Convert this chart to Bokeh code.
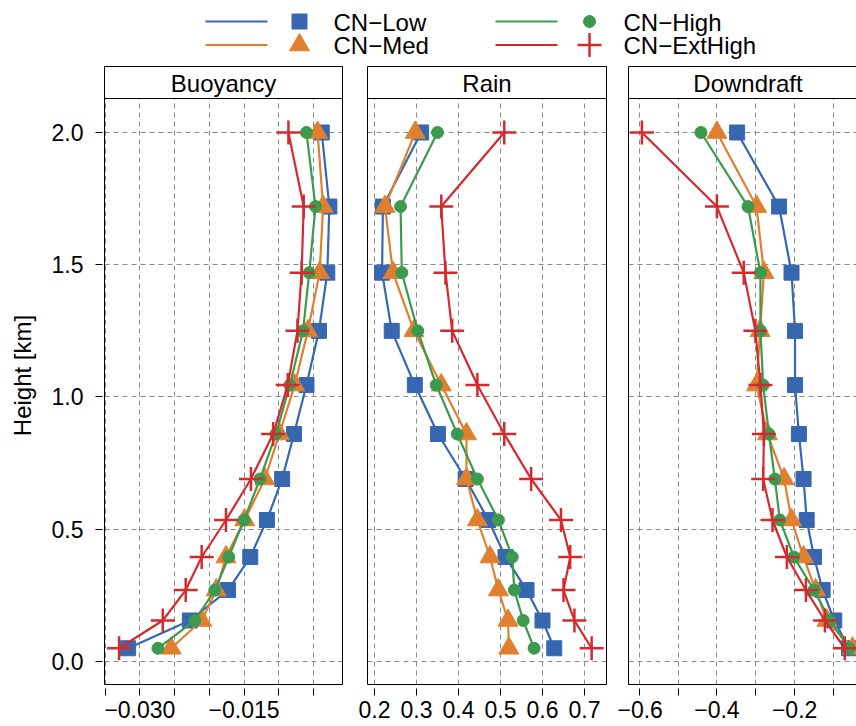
from bokeh.plotting import figure
from bokeh.layouts import column, row
from bokeh.models import Range1d, FixedTicker, LinearAxis
from bokeh.core.properties import value
from bokeh.embed import file_html
from bokeh.resources import INLINE

FONT = "Liberation Sans"

# ---------------- data ----------------
height_km = [0.05, 0.155, 0.27, 0.395, 0.535, 0.69, 0.86, 1.045, 1.25, 1.47, 1.72, 2.0]

series_names = ["CN\u2212Low", "CN\u2212Med", "CN\u2212High", "CN\u2212ExtHigh"]
panel_titles = ["Buoyancy", "Rain", "Downdraft"]

buoyancy_low = [-0.0317, -0.0228, -0.0173, -0.0141, -0.0117, -0.0095, -0.0078, -0.0060, -0.0042, -0.0030, -0.0027, -0.0038]
buoyancy_med = [-0.0255, -0.0211, -0.0190, -0.0176, -0.0149, -0.0120, -0.0099, -0.0077, -0.0058, -0.0041, -0.0036, -0.0044]
buoyancy_high = [-0.0274, -0.0221, -0.0192, -0.0172, -0.0150, -0.0127, -0.0104, -0.0084, -0.0065, -0.0056, -0.0047, -0.0060]
buoyancy_exthigh = [-0.0330, -0.0267, -0.0234, -0.0211, -0.0176, -0.0140, -0.0108, -0.0087, -0.0073, -0.0067, -0.0064, -0.0086]

rain_low = [0.628, 0.600, 0.562, 0.512, 0.471, 0.417, 0.351, 0.296, 0.241, 0.218, 0.220, 0.311]
rain_med = [0.520, 0.518, 0.495, 0.475, 0.445, 0.419, 0.419, 0.359, 0.294, 0.244, 0.225, 0.297]
rain_high = [0.580, 0.554, 0.533, 0.528, 0.495, 0.445, 0.397, 0.347, 0.303, 0.265, 0.262, 0.350]
rain_exthigh = [0.717, 0.676, 0.650, 0.666, 0.644, 0.573, 0.509, 0.445, 0.385, 0.369, 0.359, 0.509]

downdraft_low = [-0.060, -0.098, -0.128, -0.150, -0.169, -0.177, -0.189, -0.199, -0.199, -0.208, -0.240, -0.348]
downdraft_med = [-0.051, -0.117, -0.146, -0.177, -0.208, -0.227, -0.270, -0.298, -0.289, -0.279, -0.298, -0.400]
downdraft_high = [-0.060, -0.109, -0.150, -0.202, -0.238, -0.251, -0.266, -0.281, -0.288, -0.288, -0.320, -0.441]
downdraft_exthigh = [-0.071, -0.122, -0.171, -0.220, -0.257, -0.281, -0.279, -0.288, -0.301, -0.331, -0.400, -0.593]

height_ticks = [0.0, 0.5, 1.0, 1.5, 2.0]
height_tick_labels = ["0.0", "0.5", "1.0", "1.5", "2.0"]

buoyancy_ticks = [-0.035, -0.030, -0.025, -0.020, -0.015, -0.010, -0.005]
buoyancy_tick_labels = ["", "\u22120.030", "", "", "\u22120.015", "", ""]
rain_ticks = [0.2, 0.3, 0.4, 0.5, 0.6, 0.7]
rain_tick_labels = ["0.2", "0.3", "0.4", "0.5", "0.6", "0.7"]
downdraft_ticks = [-0.6, -0.5, -0.4, -0.3, -0.2, -0.1]
downdraft_tick_labels = ["\u22120.6", "", "\u22120.4", "", "\u22120.2", ""]

# ---------------- styles ----------------
colors = ["#3767B1", "#E0802F", "#3C9A4F", "#D42A2E"]
markers = ["square", "triangle", "circle", "cross"]
msizes = [15, 20, 12, 24]
mlw = [1, 1, 1, 2.5]

Y_START, Y_END = -0.087, 2.2495
STRIP_BOTTOM = 2.1285
STRIP_TEXT_Y = 2.187
FIG_H = 664


def bare_axis():
    return LinearAxis(ticker=FixedTicker(ticks=[]), major_tick_line_color=None,
                      minor_tick_line_color=None, major_label_text_font_size="0px",
                      major_tick_in=0, major_tick_out=0, major_label_standoff=0,
                      axis_line_color="black", axis_line_width=1)


def make_panel(title, values, x_start, x_end, full_end, ticks, labels,
               width, b_left, b_right, show_y, right_edge):
    p = figure(width=width, height=FIG_H, x_range=Range1d(x_start, x_end),
               y_range=Range1d(Y_START, Y_END), toolbar_location=None,
               output_backend="svg", title=None,
               min_border_left=b_left, min_border_right=b_right,
               min_border_top=4, min_border_bottom=42)
    p.outline_line_color = None
    p.background_fill_color = "white"
    p.border_fill_color = "white"

    p.xgrid.ticker = FixedTicker(ticks=ticks)
    p.ygrid.ticker = FixedTicker(ticks=height_ticks)
    for g in (p.xgrid[0], p.ygrid[0]):
        g.grid_line_color = "#8a8a8a"
        g.grid_line_dash = "5 4"
        g.grid_line_width = 1

    xa = p.xaxis[0]
    xa.ticker = FixedTicker(ticks=ticks)
    xa.major_label_overrides = dict(zip(ticks, labels))
    xa.major_tick_in = -4
    xa.major_tick_out = 11
    xa.major_label_standoff = 5
    xa.minor_tick_line_color = None
    xa.major_tick_line_color = "black"
    xa.axis_line_color = "black"
    xa.major_label_text_font = FONT
    xa.major_label_text_font_size = "23px"
    xa.major_label_text_color = "black"

    ya = p.yaxis[0]
    if show_y:
        ya.ticker = FixedTicker(ticks=height_ticks)
        ya.major_label_overrides = dict(zip(height_ticks, height_tick_labels))
        ya.major_tick_in = -2
        ya.major_tick_out = 9
        ya.major_label_standoff = 12
        ya.minor_tick_line_color = None
        ya.major_tick_line_color = "black"
        ya.axis_line_color = "black"
        ya.major_label_text_font = FONT
        ya.major_label_text_font_size = "23px"
        ya.major_label_text_color = "black"
        ya.axis_label = "Height [km]"
        ya.axis_label_text_font = FONT
        ya.axis_label_text_font_size = "24px"
        ya.axis_label_text_font_style = "normal"
        ya.axis_label_text_color = "black"
        ya.axis_label_standoff = 13
    else:
        ya.ticker = FixedTicker(ticks=[])
        ya.major_tick_line_color = None
        ya.minor_tick_line_color = None
        ya.major_label_text_font_size = "0px"
        ya.major_tick_in = 0
        ya.major_tick_out = 0
        ya.major_label_standoff = 0
        ya.axis_line_color = "black"

    p.add_layout(bare_axis(), "above")
    if right_edge:
        p.add_layout(bare_axis(), "right")

    for vals, c, m, s, lw in zip(values, colors, markers, msizes, mlw):
        p.line(vals, height_km, line_color=c, line_width=2.2)
        p.scatter(vals, height_km, marker=m, size=s, fill_color=c,
                  line_color=c, line_width=lw)

    # strip (panel title box)
    p.quad(left=[x_start - 1], right=[full_end + 1], bottom=[STRIP_BOTTOM],
           top=[Y_END + 1], fill_color="white", line_color="black", line_width=1)
    p.text(x=[(x_start + full_end) / 2], y=[STRIP_TEXT_Y], text=[title],
           text_font=value(FONT), text_font_size="24px", text_align="center",
           text_baseline="alphabetic", text_color="black")
    return p


p1 = make_panel(panel_titles[0],
                [buoyancy_low, buoyancy_med, buoyancy_high, buoyancy_exthigh],
                -0.0351, -0.00081, -0.00081, buoyancy_ticks, buoyancy_tick_labels,
                354, 104, 12, True, True)
p2 = make_panel(panel_titles[1],
                [rain_low, rain_med, rain_high, rain_exthigh],
                0.1833, 0.7524, 0.7524, rain_ticks, rain_tick_labels,
                263, 13, 11, False, True)
p3 = make_panel(panel_titles[2],
                [downdraft_low, downdraft_med, downdraft_high, downdraft_exthigh],
                -0.6275, -0.0408, -0.0125, downdraft_ticks, downdraft_tick_labels,
                239, 11, 0, False, False)

# ---------------- legend ----------------
lg = figure(width=856, height=62, x_range=Range1d(0, 856), y_range=Range1d(62, 0),
            toolbar_location=None, output_backend="svg", title=None, min_border=0)
lg.axis.visible = False
lg.grid.visible = False
lg.outline_line_color = None

col_x = [205, 205, 495, 495]
row_y = [21, 44.5, 21, 44.5]
for name, c, m, s, lw, cx, ry in zip(series_names, colors, markers, msizes, mlw, col_x, row_y):
    lg.segment(x0=[cx], y0=[ry], x1=[cx + 62], y1=[ry], line_color=c, line_width=2.2)
    lg.scatter(x=[cx + 94], y=[ry], marker=m, size=s, fill_color=c, line_color=c, line_width=lw)
    lg.text(x=[cx + 128], y=[ry + 0.5], text=[name], text_font=value(FONT),
            text_font_size="24px", text_align="left", text_baseline="alphabetic",
            text_color="black")

layout = column(lg, row(p1, p2, p3))

with open("out.html", "w") as f:
    f.write(file_html(layout, INLINE))
